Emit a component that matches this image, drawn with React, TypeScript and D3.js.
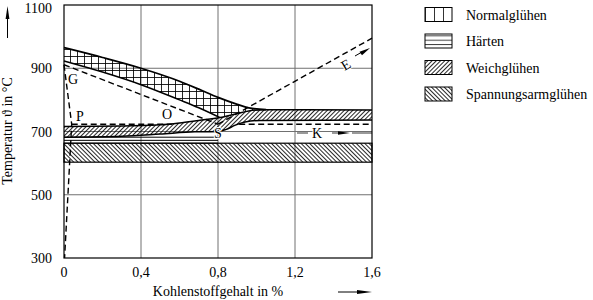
import React from "react";
import * as d3 from "d3";

const W = 593;
const H = 300;

// axes
const tempTicks = [300, 500, 700, 900, 1100];
const carbonTicks = [0, 0.4, 0.8, 1.2, 1.6];
const carbonTickLabels = ["0", "0,4", "0,8", "1,2", "1,6"];

// heat treatment bands [carbon %, temperature °C]
const normalTop: [number, number][] = [
  [0, 965], [0.2, 934], [0.4, 900], [0.6, 859], [0.7, 834], [0.8, 808],
  [0.9, 786], [0.96, 775], [1.05, 769],
];
const normalBottom: [number, number][] = [
  [0, 923], [0.2, 888], [0.4, 848], [0.6, 800], [0.7, 775], [0.81, 744],
];
const weichTop: [number, number][] = [
  [0, 716], [0.3, 717], [0.5, 721], [0.6, 727], [0.7, 735], [0.81, 744],
  [0.9, 757], [0.96, 765], [1.05, 769], [1.6, 768],
];
const weichBottom: [number, number][] = [
  [0, 682], [0.3, 685], [0.5, 692], [0.68, 699], [0.8, 700], [0.84, 706],
  [0.89, 720], [0.94, 730], [1.02, 735], [1.6, 736],
];
const spannungCarbon = [0, 1.6];
const spannungTemp = [603, 663];
const haertenCarbon = [0, 0.8];
const haertenTemp = [663, 672, 682];

// phase lines of the Fe-C diagram
const lineGPQ: [number, number][] = [[0, 911], [0.04, 723], [0.003, 300]];
const lineGOS: [number, number][] = [[0, 911], [0.8, 723]];
const lineSE: [number, number][] = [[0.8, 723], [1.6, 995]];
const pskTemp = 723;
const pskSegments: [number, number][] = [[0.04, 0.56], [0.91, 1.6]];

const pointLabels = ["G", "P", "O", "S", "K", "E"];
const pointCarbon = [0.047, 0.083, 0.535, 0.8, 1.314, 1.465];
const pointTemp = [866, 746, 755, 695, 695, 910];

const legendLabels = ["Normalglühen", "Härten", "Weichglühen", "Spannungsarmglühen"];

const FONT = "'Liberation Serif', 'Times New Roman', serif";

export default function App() {
  const x = d3.scaleLinear().domain([0, 1.6]).range([64, 372]);
  const y = d3.scaleLinear().domain([300, 1100]).range([258, 5]);

  const line = d3
    .line<[number, number]>()
    .x((d) => x(d[0]))
    .y((d) => y(d[1]))
    .curve(d3.curveMonotoneX);
  const straight = d3
    .line<[number, number]>()
    .x((d) => x(d[0]))
    .y((d) => y(d[1]));

  // normal band: top curve, then back along /// top and the lower curve
  const weichUpper = weichTop.filter((d) => d[0] >= 0.81 && d[0] <= 1.05);
  const normalArea =
    line(normalTop) +
    "L" +
    line(weichUpper.slice().reverse() as [number, number][])!.slice(1) +
    "L" +
    line(normalBottom.slice().reverse() as [number, number][])!.slice(1) +
    "Z";

  const weichArea =
    line(weichTop) +
    "L" +
    line(weichBottom.slice().reverse() as [number, number][])!.slice(1) +
    "Z";

  const [x0, x1] = [x(0), x(1.6)];
  const [yTop, yBot] = [y(1100), y(300)];

  const hatch = { stroke: "#000", strokeWidth: 0.85 };
  const border = { fill: "none", stroke: "#000", strokeWidth: 1.5 };
  const dash = { fill: "none", stroke: "#000", strokeWidth: 1.4, strokeDasharray: "6,3.5" };

  const legendY = [14.5, 41, 67.5, 94];
  const legendFill = ["url(#pVert)", "url(#pHor)", "url(#pUp)", "url(#pDown)"];

  return (
    <svg width={W} height={H} style={{ position: "absolute", left: 0, top: 0 }} fontFamily={FONT}>
      <defs>
        <pattern id="pGrid" patternUnits="userSpaceOnUse" width={7} height={7}>
          <path d="M0.5 0V7M0 0.5H7" {...hatch} />
        </pattern>
        <pattern id="pUp" patternUnits="userSpaceOnUse" width={3} height={3} patternTransform="rotate(45)">
          <line x1={0.5} y1={0} x2={0.5} y2={3} {...hatch} />
        </pattern>
        <pattern id="pDown" patternUnits="userSpaceOnUse" width={3} height={3} patternTransform="rotate(-45)">
          <line x1={0.5} y1={0} x2={0.5} y2={3} {...hatch} />
        </pattern>
        <pattern id="pVert" patternUnits="userSpaceOnUse" x={425} width={9} height={9}>
          <line x1={0.5} y1={0} x2={0.5} y2={9} stroke="#000" strokeWidth={0.8} />
        </pattern>
        <pattern id="pHor" patternUnits="userSpaceOnUse" y={1} width={9} height={4.3}>
          <line x1={0} y1={0.5} x2={9} y2={0.5} stroke="#000" strokeWidth={0.8} />
        </pattern>
      </defs>

      {/* grid */}
      {tempTicks.slice(1, -1).map((t) => (
        <line key={"gy" + t} x1={x0} x2={x1} y1={y(t)} y2={y(t)} stroke="#707070" strokeWidth={1} />
      ))}
      {carbonTicks.slice(1, -1).map((c) => (
        <line key={"gx" + c} x1={x(c)} x2={x(c)} y1={yTop} y2={yBot} stroke="#707070" strokeWidth={1} />
      ))}

      {/* Spannungsarmglühen */}
      <rect
        x={x(spannungCarbon[0])}
        y={y(spannungTemp[1])}
        width={x(spannungCarbon[1]) - x(spannungCarbon[0])}
        height={y(spannungTemp[0]) - y(spannungTemp[1])}
        fill="url(#pDown)"
        stroke="#000"
        strokeWidth={1.2}
      />

      {/* Härten strip */}
      {haertenTemp.map((t) => (
        <line key={"h" + t} x1={x(haertenCarbon[0])} x2={x(haertenCarbon[1])} y1={y(t)} y2={y(t)} stroke="#000" strokeWidth={1} />
      ))}

      {/* Normalglühen */}
      <path d={normalArea} fill="url(#pGrid)" stroke="none" />
      <path d={line(normalTop)!} {...border} strokeWidth={1.8} />
      <path d={line(normalBottom)!} {...border} />

      {/* Weichglühen */}
      <path d={weichArea} fill="url(#pUp)" stroke="none" />
      <path d={line(weichTop)!} {...border} />
      <path d={line(weichBottom)!} {...border} />

      {/* phase lines */}
      <path d={straight(lineGPQ)!} {...dash} />
      <path d={straight(lineGOS)!} {...dash} />
      <path d={straight(lineSE)!} {...dash} />
      {pskSegments.map((s, i) => (
        <line key={"psk" + i} x1={x(s[0])} x2={x(s[1])} y1={y(pskTemp)} y2={y(pskTemp)} {...dash} strokeWidth={1.6} />
      ))}

      {/* frame */}
      <rect x={x0} y={yTop} width={x1 - x0} height={yBot - yTop} fill="none" stroke="#000" strokeWidth={1.2} />

      {/* K pointer */}
      <line x1={297} x2={308} y1={133} y2={133} stroke="#000" strokeWidth={0.8} />
      <line x1={332} x2={340} y1={133} y2={133} stroke="#000" strokeWidth={0.8} />
      <polygon points="338,131.3 350,133 338,134.7" fill="#000" />
      <line x1={352} x2={x1} y1={133} y2={133} stroke="#000" strokeWidth={0.8} />
      {/* E pointer */}
      <line x1={355} y1={56} x2={362} y2={52} stroke="#000" strokeWidth={1} />
      <polygon points="359.5,51.8 370,48 362,55.2" fill="#000" />

      {pointLabels.map((l, i) => (
        <text
          key={l}
          x={x(pointCarbon[i])}
          y={y(pointTemp[i])}
          fontSize={14}
          textAnchor="middle"
          dominantBaseline="central"
          transform={l === "E" ? `rotate(-30 ${x(pointCarbon[i])} ${y(pointTemp[i])})` : undefined}
          style={{ paintOrder: "stroke" }}
          stroke="#fff"
          strokeWidth={2}
        >
          {l}
        </text>
      ))}

      {/* y tick labels */}
      {tempTicks.map((t) => (
        <text key={"ty" + t} x={52} y={Math.max(y(t) + 5, 12.5)} fontSize={14} textAnchor="end">
          {t}
        </text>
      ))}
      {carbonTicks.map((c, i) => (
        <text key={"tx" + c} x={x(c)} y={277} fontSize={14} textAnchor="middle">
          {carbonTickLabels[i]}
        </text>
      ))}

      {/* axis titles */}
      <text transform="translate(12,131) rotate(-90)" fontSize={14} textAnchor="middle">
        Temperatur ϑ in °C
      </text>
      <line x1={7.5} x2={7.5} y1={38} y2={14} stroke="#000" strokeWidth={1} />
      <polygon points="5.6,19 7.5,6 9.4,19" fill="#000" />
      <text x={218} y={296} fontSize={14} textAnchor="middle">
        Kohlenstoffgehalt in %
      </text>
      <line x1={338} x2={360} y1={292} y2={292} stroke="#000" strokeWidth={1} />
      <polygon points="357,290 372,292 357,294" fill="#000" />

      {/* legend */}
      {legendLabels.map((l, i) => (
        <g key={l}>
          <rect x={425} y={legendY[i] - 7} width={27} height={14} fill={legendFill[i]} stroke="#000" strokeWidth={1} />
          <text x={466} y={legendY[i] + 5} fontSize={14}>
            {l}
          </text>
        </g>
      ))}
    </svg>
  );
}
